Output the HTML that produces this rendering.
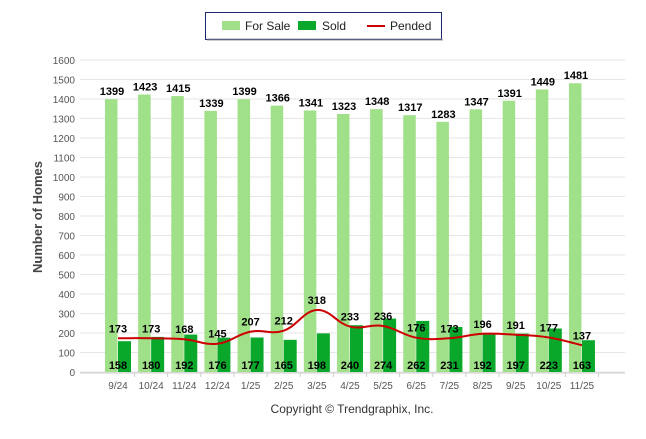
<!DOCTYPE html>
<html><head><meta charset="utf-8"><style>
body{margin:0;background:#fff;font-family:"Liberation Sans",sans-serif}
svg text{font-family:"Liberation Sans",sans-serif}
</style></head><body>
<svg width="646" height="434" id="c">
<g>
<rect x="205.5" y="12.5" width="236" height="27" fill="#fff" stroke="#1a2a6c" stroke-width="1"/>
<rect x="207" y="38" width="236" height="3" fill="#999" opacity="0.5"/>
<rect x="222" y="21" width="18" height="9" fill="#a0e088"/>
<text x="245" y="30" font-size="12" fill="#222">For Sale</text>
<rect x="298" y="21" width="18" height="9" fill="#0aa82a"/>
<text x="322" y="30" font-size="12" fill="#222">Sold</text>
<line x1="367" y1="26" x2="385" y2="26" stroke="#cc0000" stroke-width="2"/>
<text x="390" y="30" font-size="12" fill="#222">Pended</text>
</g>
<text transform="translate(42,217) rotate(-90)" text-anchor="middle" font-size="13" font-weight="bold" fill="#444">Number of Homes</text>
<g id="grid"></g><g id="bars"></g><g id="line"></g><g id="labels"></g>
<text x="352" y="413" text-anchor="middle" font-size="12" fill="#333">Copyright © Trendgraphix, Inc.</text>
</svg>
<script>
const categories=["9/24","10/24","11/24","12/24","1/25","2/25","3/25","4/25","5/25","6/25","7/25","8/25","9/25","10/25","11/25"];
const forSale=[1399,1423,1415,1339,1399,1366,1341,1323,1348,1317,1283,1347,1391,1449,1481];
const sold=[158,180,192,176,177,165,198,240,274,262,231,192,197,223,163];
const pended=[173,173,168,145,207,212,318,233,236,176,173,196,191,177,137];
const yTicks=[0,100,200,300,400,500,600,700,800,900,1000,1100,1200,1300,1400,1500,1600];
const NS="http://www.w3.org/2000/svg";
const y=v=>372-v*(312/1600);
const x=i=>118+i*33.14;
function mk(t,a,p){const e=document.createElementNS(NS,t);for(const k in a)e.setAttribute(k,a[k]);p.appendChild(e);return e;}
const G=document.getElementById('grid'),B=document.getElementById('bars'),L=document.getElementById('line'),T=document.getElementById('labels');
yTicks.forEach(v=>{
 const l=mk('line',{x1:80,x2:625,y1:y(v),y2:y(v),stroke:'#e6e6e6','stroke-width':1},G);
 
 
 const t=mk('text',{x:75,y:y(v)+4,'text-anchor':'end','font-size':10,fill:'#555'},G);t.textContent=v;
 
 
});
mk('line',{x1:80,x2:625,y1:373,y2:373,stroke:'#ccc'},G);
categories.forEach((c,i)=>{
 const cx=x(i);
 const t=mk('text',{x:cx,y:389,'text-anchor':'middle','font-size':10,fill:'#555'},G);t.textContent=c;
 
 
 mk('line',{x1:cx+16.5,x2:cx+16.5,y1:373,y2:377,stroke:'#ccc'},G);
 const b1=mk('rect',{x:cx-13,y:y(forSale[i]),width:12.5,height:372-y(forSale[i]),fill:'#a0e088'},B);
 
 
 const b2=mk('rect',{x:cx,y:y(sold[i]),width:13,height:372-y(sold[i]),fill:'#0aa82a'},B);
 
 
 const l1=mk('text',{x:cx-6,y:y(forSale[i])-4,'text-anchor':'middle','font-size':11,'font-weight':'bold',fill:'#000'},T);l1.textContent=forSale[i];
 
 
 const l2=mk('text',{x:cx,y:369,'text-anchor':'middle','font-size':11,'font-weight':'bold',fill:'#000'},T);l2.textContent=sold[i];
 
 
 const l3=mk('text',{x:cx,y:y(pended[i])-6,'text-anchor':'middle','font-size':11,'font-weight':'bold',fill:'#000'},T);l3.textContent=pended[i];
 
 
});
const pts=pended.map((v,i)=>[x(i),y(v)]);
let d='M'+pts[0][0]+','+pts[0][1];
for(let i=0;i<pts.length-1;i++){
 const p0=pts[Math.max(0,i-1)],p1=pts[i],p2=pts[i+1],p3=pts[Math.min(pts.length-1,i+2)];
 const k=0.2;
 d+=` C${p1[0]+(p2[0]-p0[0])*k},${p1[1]+(p2[1]-p0[1])*k} ${p2[0]-(p3[0]-p1[0])*k},${p2[1]-(p3[1]-p1[1])*k} ${p2[0]},${p2[1]}`;
}
const ln=mk('path',{d:d,fill:'none',stroke:'#cc0000','stroke-width':2},L);


</script>
</body></html>
